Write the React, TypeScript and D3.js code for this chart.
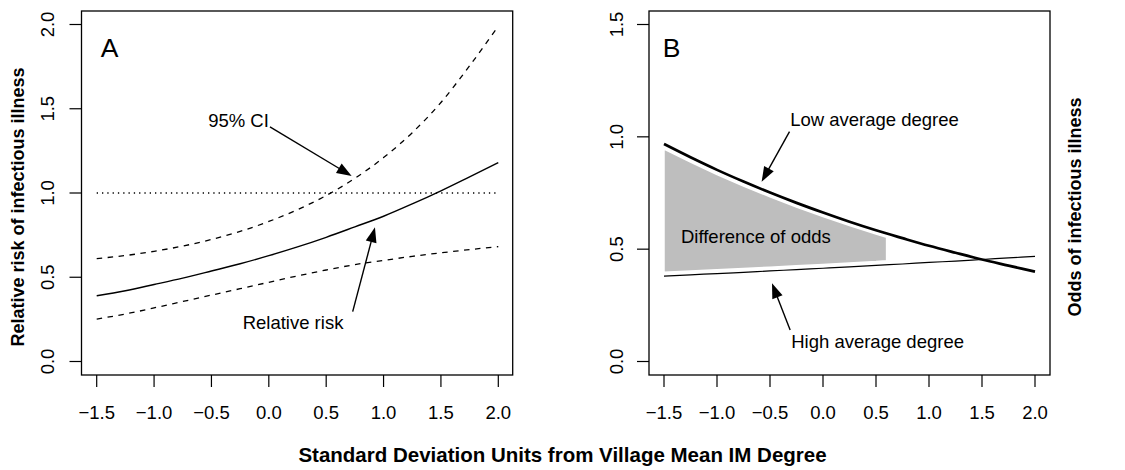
import React from "react";
import * as d3 from "d3";

// ---------- data ----------
const xGrid = [-1.5, -1.25, -1.0, -0.75, -0.5, -0.25, 0, 0.25, 0.5, 0.75, 1.0, 1.25, 1.5, 1.75, 2.0];
const relRisk = [0.39, 0.42, 0.457, 0.495, 0.537, 0.58, 0.628, 0.68, 0.737, 0.799, 0.862, 0.935, 1.013, 1.096, 1.18];
const ciUpper = [0.611, 0.629, 0.654, 0.685, 0.724, 0.772, 0.831, 0.901, 0.985, 1.087, 1.21, 1.358, 1.537, 1.755, 1.99];
const ciLower = [0.252, 0.282, 0.318, 0.356, 0.394, 0.432, 0.47, 0.508, 0.543, 0.575, 0.6, 0.624, 0.645, 0.664, 0.682];
const refLine = [1.0, 1.0];
const refX = [-1.5, 2.0];

const lowDegree = [0.968, 0.909, 0.853, 0.801, 0.752, 0.706, 0.663, 0.622, 0.584, 0.549, 0.515, 0.484, 0.454, 0.427, 0.40];
const highDegree = [0.38, 0.386, 0.391, 0.397, 0.403, 0.409, 0.415, 0.421, 0.428, 0.434, 0.441, 0.447, 0.454, 0.461, 0.468];

const diffX = [-1.5, -1.25, -1.0, -0.75, -0.5, -0.25, 0, 0.25, 0.5, 0.6];
const diffTop = [0.946, 0.888, 0.832, 0.781, 0.733, 0.687, 0.645, 0.605, 0.567, 0.553];
const diffBottom = [0.397, 0.403, 0.408, 0.414, 0.42, 0.426, 0.432, 0.438, 0.445, 0.449];

const xTicks = [-1.5, -1.0, -0.5, 0.0, 0.5, 1.0, 1.5, 2.0];
const yTicksA = [0.0, 0.5, 1.0, 1.5, 2.0];
const yTicksB = [0.0, 0.5, 1.0, 1.5];

// ---------- layout ----------
const W = 1125, H = 470;
const FONT = "'Liberation Sans', Arial, Helvetica, sans-serif";
const TICK_FS = 18.5;

const boxTop = 11, boxBottom = 375;
const panelA = { left: 81.5, right: 512.7 };
const panelB = { left: 649, right: 1050 };

const xA = d3.scaleLinear().domain([-1.5, 2.0]).range([96.7, 498.3]);
const yA = d3.scaleLinear().domain([0, 2.0]).range([361.5, 24.5]);
const xB = d3.scaleLinear().domain([-1.5, 2.0]).range([664, 1035]);
const yB = d3.scaleLinear().domain([0, 1.5]).range([361.5, 24.5]);

const fmt = (v: number) => {
  const s = Math.abs(v).toFixed(1);
  return v < 0 ? "\u2212" + s : s;
};

type Sx = d3.ScaleLinear<number, number>;

function Arrow({ x1, y1, x2, y2, sx, sy }: { x1: number; y1: number; x2: number; y2: number; sx: Sx; sy: Sx }) {
  const px1 = sx(x1), py1 = sy(y1), px2 = sx(x2), py2 = sy(y2);
  const dx = px2 - px1, dy = py2 - py1;
  const len = Math.hypot(dx, dy);
  const ux = dx / len, uy = dy / len;
  const hl = 15, hw = 5.5;
  const bx = px2 - ux * hl, by = py2 - uy * hl;
  const pts = [
    [px2, py2],
    [bx - uy * hw, by + ux * hw],
    [bx + uy * hw, by - ux * hw],
  ];
  return (
    <g>
      <line x1={px1} y1={py1} x2={bx + ux * 2} y2={by + uy * 2} stroke="#000" strokeWidth={1.4} />
      <polygon points={pts.map((p) => p.join(",")).join(" ")} fill="#000" />
    </g>
  );
}

function Axes({ sx, sy, yTicks, left, right, yLabelX }: { sx: Sx; sy: Sx; yTicks: number[]; left: number; right: number; yLabelX: number }) {
  return (
    <g>
      <rect x={left} y={boxTop} width={right - left} height={boxBottom - boxTop} fill="none" stroke="#000" strokeWidth={1.3} />
      {xTicks.map((t) => (
        <g key={"x" + t}>
          <line x1={sx(t)} x2={sx(t)} y1={boxBottom} y2={boxBottom + 12} stroke="#000" strokeWidth={1.2} />
          <text x={sx(t)} y={412} textAnchor="middle" dominantBaseline="central" fontSize={TICK_FS} fontFamily={FONT}>
            {fmt(t)}
          </text>
        </g>
      ))}
      {yTicks.map((t) => (
        <g key={"y" + t}>
          <line x1={left - 12} x2={left} y1={sy(t)} y2={sy(t)} stroke="#000" strokeWidth={1.2} />
          <text
            transform={`translate(${yLabelX},${sy(t)}) rotate(-90)`}
            textAnchor="middle"
            dominantBaseline="central"
            fontSize={TICK_FS}
            fontFamily={FONT}
          >
            {fmt(t)}
          </text>
        </g>
      ))}
    </g>
  );
}

export default function App() {
  const lineA = (ys: number[]) =>
    d3.line<number>().x((_, i) => xA(xGrid[i])).y((d) => yA(d)).curve(d3.curveMonotoneX)(ys) || "";
  const lineB = (ys: number[]) =>
    d3.line<number>().x((_, i) => xB(xGrid[i])).y((d) => yB(d)).curve(d3.curveMonotoneX)(ys) || "";
  const refPath = d3.line<number>().x((_, i) => xA(refX[i])).y((d) => yA(d))(refLine) || "";

  const diffPoly = [
    ...diffX.map((x, i) => [xB(x), yB(diffTop[i])] as [number, number]),
    ...diffX.map((x, i) => [xB(x), yB(diffBottom[i])] as [number, number]).reverse(),
  ];
  const diffPath = d3.line().curve(d3.curveLinearClosed)(diffPoly) || "";

  return (
    <div style={{ position: "absolute", left: 0, top: 0 }}>
      <svg width={W} height={H} style={{ display: "block", background: "#fff" }}>
        {/* Panel A */}
        <Axes sx={xA} sy={yA} yTicks={yTicksA} left={panelA.left} right={panelA.right} yLabelX={47} />
        <path d={refPath} fill="none" stroke="#000" strokeWidth={1.3} strokeDasharray="1.3,4" />
        <path d={lineA(ciUpper)} fill="none" stroke="#000" strokeWidth={1.3} strokeDasharray="5.5,5.5" />
        <path d={lineA(ciLower)} fill="none" stroke="#000" strokeWidth={1.3} strokeDasharray="5.5,5.5" />
        <path d={lineA(relRisk)} fill="none" stroke="#000" strokeWidth={1.4} />
        <text x={xA(-1.465)} y={yA(1.805)} fontSize={26.5} fontFamily={FONT}>A</text>
        <text x={xA(0.0)} y={yA(1.393)} textAnchor="end" fontSize={TICK_FS} fontFamily={FONT}>95% CI</text>
        <Arrow x1={0.01} y1={1.393} x2={0.722} y2={1.101} sx={xA} sy={yA} />
        <text x={xA(-0.228)} y={yA(0.193)} fontSize={TICK_FS} fontFamily={FONT}>Relative risk</text>
        <Arrow x1={0.731} y1={0.296} x2={0.925} y2={0.796} sx={xA} sy={yA} />
        <text
          transform={`translate(18,207) rotate(-90)`}
          textAnchor="middle"
          dominantBaseline="central"
          fontSize={18}
          fontWeight="bold"
          fontFamily={FONT}
        >
          Relative risk of infectious illness
        </text>

        {/* Panel B */}
        <Axes sx={xB} sy={yB} yTicks={yTicksB} left={panelB.left} right={panelB.right} yLabelX={616} />
        <path d={diffPath} fill="#bebebe" stroke="#fff" strokeWidth={1.5} />
        <path d={lineB(highDegree)} fill="none" stroke="#000" strokeWidth={1.2} />
        <path d={lineB(lowDegree)} fill="none" stroke="#000" strokeWidth={2.7} />
        <text x={xB(-1.511)} y={yB(1.357)} fontSize={26.5} fontFamily={FONT}>B</text>
        <text x={xB(-1.34)} y={yB(0.529)} fontSize={TICK_FS} fontFamily={FONT}>Difference of odds</text>
        <text x={xB(-0.31)} y={yB(1.048)} fontSize={TICK_FS} fontFamily={FONT}>Low average degree</text>
        <Arrow x1={-0.316} y1={1.023} x2={-0.579} y2={0.8} sx={xB} sy={yB} />
        <text x={xB(-0.3)} y={yB(0.058)} fontSize={TICK_FS} fontFamily={FONT}>High average degree</text>
        <Arrow x1={-0.31} y1={0.14} x2={-0.481} y2={0.348} sx={xB} sy={yB} />
        <text
          transform={`translate(1075,207) rotate(-90)`}
          textAnchor="middle"
          dominantBaseline="central"
          fontSize={18}
          fontWeight="bold"
          fontFamily={FONT}
        >
          Odds of infectious illness
        </text>

        {/* shared x title */}
        <text x={562.5} y={462} textAnchor="middle" fontSize={20.5} fontWeight="bold" fontFamily={FONT}>
          Standard Deviation Units from Village Mean IM Degree
        </text>
      </svg>
    </div>
  );
}
